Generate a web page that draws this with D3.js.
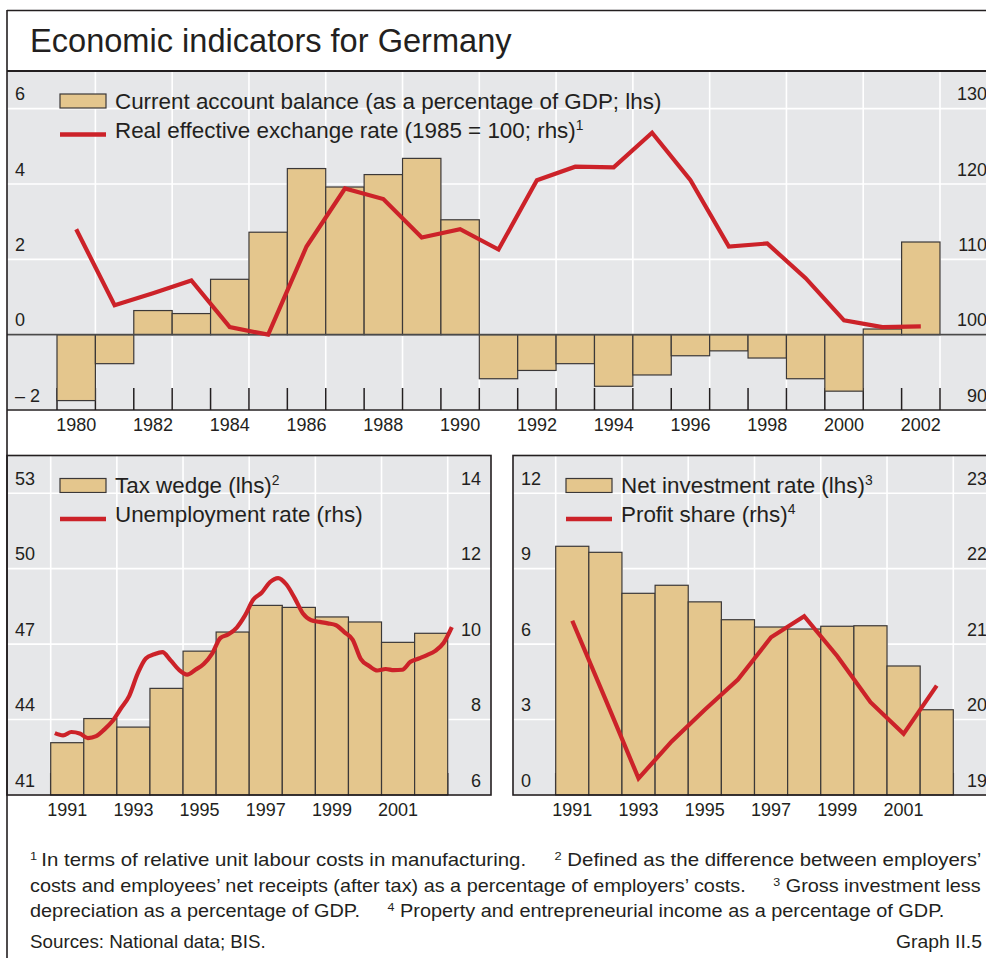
<!DOCTYPE html>
<html>
<head>
<meta charset="utf-8">
<script src="https://cdn.jsdelivr.net/npm/d3@7"></script>
<style>
  body { margin: 0; background: #fff; }
  text { font-family: "Liberation Sans", Arial, sans-serif; fill: #231f20; }
</style>
</head>
<body>
<svg id="chart" width="986" height="958"></svg>
<script>
// ---- data ----
var caYears = [1980,1981,1982,1983,1984,1985,1986,1987,1988,1989,1990,1991,
               1992,1993,1994,1995,1996,1997,1998,1999,2000,2001,2002];
var caYearLabels = [1980,1982,1984,1986,1988,1990,1992,1994,1996,1998,2000,2002];
var currentAccount = [-1.75,-0.77,0.64,0.56,1.47,2.72,4.41,3.92,4.25,4.68,3.05,-1.17,
                      -0.95,-0.77,-1.37,-1.07,-0.56,-0.43,-0.62,-1.17,-1.50,0.15,2.46];
var reer = [114.0,103.9,105.5,107.2,101.0,100.0,111.7,119.4,118.0,112.9,114.0,111.3,
            120.5,122.3,122.2,126.8,120.5,111.7,112.1,107.5,101.9,101.0,101.1];
var caTicks = [-2,0,2,4,6];
var caTickLabels = ['\u2013 2','0','2','4','6'];
var reerTicks = [90,100,110,120,130];

var years9102 = [1991,1992,1993,1994,1995,1996,1997,1998,1999,2000,2001,2002];
var oddYearLabels = [1991,1993,1995,1997,1999,2001];

var taxWedge = [43.08,44.04,43.70,45.24,46.72,47.48,48.54,48.46,48.08,47.88,47.07,47.43];
// quarterly, 1991 Q1 to 2003 Q1
var unemployment = [7.64,7.58,7.67,7.63,7.51,7.56,7.74,7.97,8.30,8.63,9.21,9.62,
                    9.73,9.79,9.57,9.32,9.19,9.32,9.47,9.74,10.16,10.26,10.44,10.76,
                    11.18,11.36,11.64,11.75,11.58,11.22,10.81,10.63,10.59,10.55,10.50,10.32,
                    10.12,9.60,9.42,9.30,9.34,9.31,9.32,9.53,9.62,9.71,9.82,10.03,10.45];
var taxTicks = [41,44,47,50,53];
var unempTicks = [6,8,10,12,14];

var netInvestment = [9.89,9.65,8.02,8.34,7.68,6.97,6.68,6.60,6.71,6.73,5.13,3.39];
var profitShare = [21.31,20.27,19.22,19.71,20.13,20.53,21.09,21.37,20.84,20.23,19.81,20.45];
var invTicks = [0,3,6,9,12];
var profitTicks = [19,20,21,22,23];

var footnotes = [
  [['1','sup'],['\u2009In terms of relative unit labour costs in manufacturing.\u00a0\u00a0\u00a0\u00a0 '],['2','sup'],[' Defined as the difference between employers\u2019']],
  [['costs and employees\u2019 net receipts (after tax) as a percentage of employers\u2019 costs.\u00a0\u00a0\u00a0\u00a0 '],['3','sup'],[' Gross investment less']],
  [['depreciation as a percentage of GDP.\u00a0\u00a0\u00a0\u00a0 '],['4','sup'],[' Property and entrepreneurial income as a percentage of GDP.']]
];

// ---- setup ----
var RED = '#cc2229', TAN = '#e4c68d', BG = '#e6e7e9', INK = '#231f20', EDGE = '#3b3838';
var svg = d3.select('#chart');

svg.append('text').attr('x', 30).attr('y', 52)
    .attr('font-size', 32.6).text('Economic indicators for Germany');

function sup(sel, txt){
    sel.append('tspan').attr('font-size', '0.62em').attr('dy', -8).text(txt);
}

function drawPanel(o){
    var g = svg.append('g');
    var x = d3.scaleBand().domain(o.years).range([o.barL, o.barR]).padding(0);
    var xq = d3.scaleLinear().domain([o.years[0], o.years[o.years.length-1] + 1]).range([o.barL, o.barR]);
    var yL = d3.scaleLinear().domain(o.lDom).range([o.bottom, o.top]);
    var yR = d3.scaleLinear().domain(o.rDom).range([o.bottom, o.top]);

    g.append('rect').attr('x', o.left).attr('y', o.top)
        .attr('width', o.right - o.left).attr('height', o.bottom - o.top).attr('fill', BG);

    g.selectAll('.hgrid').data(o.lTicks).enter().append('line').attr('class','hgrid')
        .attr('x1', o.left).attr('x2', o.right)
        .attr('y1', function(d){return yL(d)}).attr('y2', function(d){return yL(d)})
        .attr('stroke', '#fff').attr('stroke-width', 1.6);

    var vgrid = o.years.filter(function(y){return y % 2 === 1}).map(function(y){return x(y)}).concat([o.barR]);
    g.selectAll('.vgrid').data(vgrid).enter().append('line').attr('class','vgrid')
        .attr('x1', function(d){return d}).attr('x2', function(d){return d})
        .attr('y1', o.top).attr('y2', o.bottom)
        .attr('stroke', '#fff').attr('stroke-width', 1.6);

    var edges = o.years.map(function(y){return x(y)}).concat([o.barR]);
    g.selectAll('.tick-mark').data(edges).enter().append('line').attr('class','tick-mark')
        .attr('x1', function(d){return d}).attr('x2', function(d){return d})
        .attr('y1', o.bottom - 22).attr('y2', o.bottom)
        .attr('stroke', INK).attr('stroke-width', 1.5);

    g.selectAll('.bar').data(o.bars).enter().append('rect').attr('class','bar')
        .attr('x', function(d,i){return x(o.years[i])})
        .attr('width', x.bandwidth())
        .attr('y', function(d){return yL(Math.max(d, o.base))})
        .attr('height', function(d){return Math.abs(yL(d) - yL(o.base))})
        .attr('fill', TAN).attr('stroke', EDGE).attr('stroke-width', 1.2);

    if (o.zeroLine) {
        g.append('line').attr('x1', o.left).attr('x2', o.right)
            .attr('y1', yL(0)).attr('y2', yL(0))
            .attr('stroke', '#4a4a4a').attr('stroke-width', 1.6);
    }

    var pts;
    if (o.quarterly) {
        pts = o.line.map(function(v,i){return {x: xq(o.years[0] + (i + 0.5) / 4), v: v}});
    } else {
        pts = o.line.map(function(v,i){return {x: x(o.years[i]) + x.bandwidth()/2, v: v}});
    }
    var line = d3.line().x(function(d){return d.x}).y(function(d){return yR(d.v)});
    if (o.quarterly) line.curve(d3.curveMonotoneX);
    g.append('path').datum(pts).attr('d', line)
        .attr('fill', 'none').attr('stroke', RED).attr('stroke-width', 4.2)
        .attr('stroke-linejoin', 'miter');

    // value labels, left and right
    var la = g.append('g').attr('transform', 'translate(' + (o.left + 8) + ',0)')
        .call(d3.axisRight(yL).tickValues(o.lTicks).tickSize(0).tickPadding(0)
            .tickFormat(function(d,i){return o.lLabels ? o.lLabels[i] : d3.format('d')(d)}));
    var ra = g.append('g').attr('transform', 'translate(' + (o.right - 10) + ',0)')
        .call(d3.axisLeft(yR).tickValues(o.rTicks).tickSize(0).tickPadding(0)
            .tickFormat(d3.format('d')));
    [la, ra].forEach(function(a){
        a.attr('font-size', 18).attr('font-family', null);
        a.select('.domain').remove();
        a.selectAll('text').attr('dy', 0).attr('y', -9).attr('fill', INK);
    });

    // year labels
    var xa = g.append('g').attr('transform', 'translate(0,' + o.bottom + ')')
        .call(d3.axisBottom(x).tickValues(o.yearLabels).tickSize(0).tickPadding(0));
    xa.attr('font-size', 18).attr('font-family', null);
    xa.select('.domain').remove();
    xa.selectAll('text').attr('dy', 0).attr('y', 21).attr('fill', INK);

    // legend
    var lg = g.append('g').attr('transform', 'translate(' + (o.left + 53) + ',' + o.top + ')');
    lg.append('rect').attr('x', 0).attr('y', 23).attr('width', 46).attr('height', 14)
        .attr('fill', TAN).attr('stroke', EDGE).attr('stroke-width', 1.2);
    lg.append('line').attr('x1', 0).attr('x2', 46).attr('y1', 63.5).attr('y2', 63.5)
        .attr('stroke', RED).attr('stroke-width', 4.5);
    var t1 = lg.append('text').attr('x', 55).attr('y', 37.5).attr('font-size', 22.4).text(o.leg1);
    if (o.sup1) sup(t1, o.sup1);
    var t2 = lg.append('text').attr('x', 55).attr('y', 66.5).attr('font-size', 22.4).text(o.leg2);
    if (o.sup2) sup(t2, o.sup2);

    // frame
    if (o.box) {
        g.append('rect').attr('x', o.left).attr('y', o.top)
            .attr('width', o.right - o.left).attr('height', o.bottom - o.top)
            .attr('fill', 'none').attr('stroke', INK).attr('stroke-width', 1.6);
    } else {
        g.append('line').attr('x1', o.left).attr('x2', o.right).attr('y1', o.top).attr('y2', o.top)
            .attr('stroke', INK).attr('stroke-width', 2);
        g.append('line').attr('x1', o.left).attr('x2', o.right).attr('y1', o.bottom).attr('y2', o.bottom)
            .attr('stroke', INK).attr('stroke-width', 1.6);
    }
}

// outer frame
svg.append('line').attr('x1', 7).attr('x2', 1000).attr('y1', 10.5).attr('y2', 10.5)
    .attr('stroke', INK).attr('stroke-width', 1.3);

drawPanel({
    left: 7, right: 997, top: 71, bottom: 410, barL: 57, barR: 940,
    years: caYears, bars: currentAccount, base: 0, line: reer, zeroLine: true,
    lDom: [-2, 7], rDom: [90, 135], lTicks: caTicks, lLabels: caTickLabels, rTicks: reerTicks,
    yearLabels: caYearLabels,
    leg1: 'Current account balance (as a percentage of GDP; lhs)',
    leg2: 'Real effective exchange rate (1985 = 100; rhs)', sup2: '1'
});

drawPanel({
    left: 7, right: 491, top: 455.5, bottom: 795, barL: 50.7, barR: 447.7, box: true,
    years: years9102, bars: taxWedge, base: 41, line: unemployment, quarterly: true,
    lDom: [41, 54.5], rDom: [6, 15], lTicks: taxTicks, rTicks: unempTicks,
    yearLabels: oddYearLabels,
    leg1: 'Tax wedge (lhs)', sup1: '2',
    leg2: 'Unemployment rate (rhs)'
});

drawPanel({
    left: 513, right: 997, top: 455.5, bottom: 795, barL: 555.7, barR: 953.3, box: true,
    years: years9102, bars: netInvestment, base: 0, line: profitShare,
    lDom: [0, 13.5], rDom: [19, 23.5], lTicks: invTicks, rTicks: profitTicks,
    yearLabels: oddYearLabels,
    leg1: 'Net investment rate (lhs)', sup1: '3',
    leg2: 'Profit share (rhs)', sup2: '4'
});

svg.append('line').attr('x1', 7).attr('x2', 7).attr('y1', 10).attr('y2', 958)
    .attr('stroke', INK).attr('stroke-width', 1.6);

// footnotes: set in regular sans, then fitted horizontally to the reference width
var fnY = [866, 892, 917];
var fnW = [952, 952, 915];
function fitText(t, x, y, w, anchorEnd){
    var bw = t.node().getBBox().width;
    var k = w / bw;
    var tx = anchorEnd ? x - w : x;
    t.attr('transform', 'translate(' + tx + ',' + y + ') scale(' + k + ',1)');
}
footnotes.forEach(function(parts, li){
    var t = svg.append('text').attr('x', 0).attr('y', 0).attr('font-size', 17.5);
    var shifted = false;
    parts.forEach(function(p){
        if (p[1] === 'sup') {
            t.append('tspan').attr('font-size', 11).attr('dy', -6).text(p[0]);
            shifted = true;
        } else {
            t.append('tspan').attr('dy', shifted ? 6 : 0).text(p[0]);
            shifted = false;
        }
    });
    fitText(t, 30, fnY[li], fnW[li]);
});
var src = svg.append('text').attr('font-size', 17.5).text('Sources: National data; BIS.');
fitText(src, 30, 948, 236);
var gr = svg.append('text').attr('font-size', 17.5).text('Graph II.5');
fitText(gr, 982, 948, 86, true);
</script>
</body>
</html>
